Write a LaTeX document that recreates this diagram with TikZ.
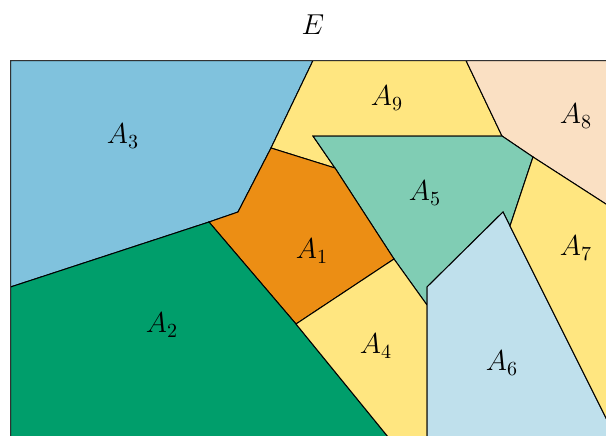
\documentclass[tikz,border=0pt]{standalone}
\usepackage{tikz}
\definecolor{cA1}{RGB}{236,142,20}
\definecolor{cA2}{RGB}{0,158,107}
\definecolor{cA3}{RGB}{128,194,221}
\definecolor{cYel}{RGB}{255,230,128}
\definecolor{cA5}{RGB}{128,205,180}
\definecolor{cA6}{RGB}{191,224,236}
\definecolor{cA8}{RGB}{250,224,195}
\definecolor{frameC}{RGB}{50,50,50}
\tikzset{
  region/.style={draw=black, line width=0.5pt, line join=miter},
  lbl/.style={font=\fontsize{14}{16}\selectfont, inner sep=0pt},
}
\begin{document}
\begin{tikzpicture}[x=0.5pt,y=-0.5pt]
\useasboundingbox (0,0) rectangle (606,435);
\clip (0,0) rectangle (606,435);
% key points
\coordinate (F0) at (10.5,60.5);
\coordinate (T1) at (313,60.5);
\coordinate (T2) at (466,60.5);
\coordinate (J1) at (271,148);
\coordinate (J2) at (238,212);
\coordinate (J3) at (209,222);
\coordinate (L1) at (10.5,287);
\coordinate (J4) at (296,324);
\coordinate (B1) at (398.7,450);
\coordinate (J5) at (394,259);
\coordinate (J6) at (335,168);
\coordinate (P1) at (313,136);
\coordinate (P2) at (502,136);
\coordinate (P3) at (533,157);
\coordinate (P4) at (510,226);
\coordinate (P5) at (503,212);
\coordinate (P6) at (427,287);
\coordinate (P7) at (427,305);
\coordinate (R1) at (640,60.5);
\coordinate (R2) at (640,226);
\coordinate (R3) at (640,450);
\coordinate (B2) at (622,450);
\coordinate (B3) at (427,450);
\coordinate (B4) at (10.5,450);
% regions
\filldraw[region, fill=cA3] (F0) -- (T1) -- (J1) -- (J2) -- (J3) -- (L1) -- cycle;
\filldraw[region, fill=cYel] (T1) -- (T2) -- (P2) -- (P1) -- (J6) -- (J1) -- cycle;
\filldraw[region, fill=cA8] (T2) -- (R1) -- (R2) -- (P3) -- (P2) -- cycle;
\filldraw[region, fill=cA5] (P1) -- (P2) -- (P3) -- (P4) -- (P5) -- (P6) -- (P7) -- (J5) -- (J6) -- cycle;
\filldraw[region, fill=cA1] (J1) -- (J6) -- (J5) -- (J4) -- (J3) -- (J2) -- cycle;
\filldraw[region, fill=cA2] (L1) -- (J3) -- (J4) -- (B1) -- (B4) -- cycle;
\filldraw[region, fill=cYel] (J4) -- (J5) -- (P7) -- (B3) -- (B1) -- cycle;
\filldraw[region, fill=cA6] (P6) -- (P5) -- (P4) -- (B2) -- (B3) -- cycle;
\filldraw[region, fill=cYel] (P3) -- (R2) -- (R3) -- (B2) -- (P4) -- cycle;
% frame
\draw[frameC, line width=0.8pt] (F0) rectangle (640,450);
% labels
\node[lbl] (E) at (313,25) {$E$};
\node[lbl] (lA1) at (312,251) {$A_1$};
\node[lbl] (lA2) at (162,325) {$A_2$};
\node[lbl] (lA3) at (123,136) {$A_3$};
\node[lbl] (lA4) at (376,346) {$A_4$};
\node[lbl] (lA5) at (425,193) {$A_5$};
\node[lbl] (lA6) at (502,363) {$A_6$};
\node[lbl] (lA7) at (576,248) {$A_7$};
\node[lbl] (lA8) at (576,116) {$A_8$};
\node[lbl] (lA9) at (387,98) {$A_9$};
\end{tikzpicture}
\end{document}
